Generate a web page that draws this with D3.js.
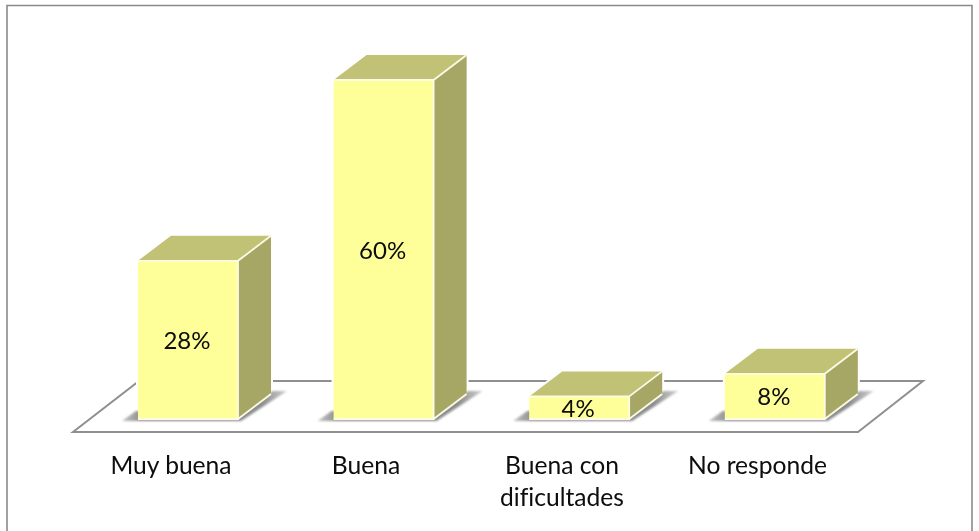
<!DOCTYPE html>
<html><head><meta charset="utf-8">
<script src="https://cdn.jsdelivr.net/npm/d3@7"></script>
<style>html,body{margin:0;padding:0;background:#fff}svg{display:block}text{font-family:Lato,"Open Sans",sans-serif;fill:#0a0a0a;font-variant-ligatures:none}</style>
</head><body><svg id="c" width="979" height="531"></svg>
<script>
const categories = [["Muy buena"],["Buena"],["Buena con","dificultades"],["No responde"]];
const values = [28,60,4,8];
const labels = ["28%","60%","4%","8%"];
const svg=d3.select("#c");
const defs=svg.append("defs");
defs.append("filter").attr("id","soft").attr("filterUnits","userSpaceOnUse").attr("x",0).attr("y",0).attr("width",979).attr("height",531)
  .append("feGaussianBlur").attr("stdDeviation",0.45);
defs.append("filter").attr("id","sh").append("feGaussianBlur").attr("stdDeviation",1);
const g=defs.append("linearGradient").attr("id","shg").attr("x1",0).attr("x2",1).attr("y1",0).attr("y2",0);
g.append("stop").attr("offset",0).attr("stop-color","#c4c4c4");
g.append("stop").attr("offset",0.12).attr("stop-color","#8d8d8d");
g.append("stop").attr("offset",0.85).attr("stop-color","#8d8d8d");
g.append("stop").attr("offset",1).attr("stop-color","#cfcfcf");

const root=svg.append("g").attr("filter","url(#soft)");
const idx=categories.map((d,i)=>i);
const barW=100, step=195.6, x0=138;
const xs=d3.scalePoint().domain(idx).range([x0,x0+3*step]);
const y=d3.scaleLinear().domain([0,60]).range([419,80]);
const dx=33,dy=-25;
const line=d3.line();

// frame
root.append("path").attr("d",line([[7,531],[7,5.5],[972,5.5],[972,531]])).attr("fill","none").attr("stroke","#8a8a8a").attr("stroke-width",1.6);

// floor
const floor=[[73,432],[139,381],[923,381],[858,432]];
root.append("path").attr("d",line(floor)+"Z").attr("fill","#fff").attr("stroke","#8f8f8f").attr("stroke-width",2);

const bars=root.append("g").selectAll("g").data(idx).join("g");
// white halo behind bar to interrupt floor line
bars.append("path").attr("fill","#fff").attr("stroke","#fff").attr("stroke-width",4)
 .attr("d",i=>{const l=xs(i),r=l+barW,t=y(values[i]),b=y(0);return line([[l,b],[l,t],[l+dx,t+dy],[r+dx,t+dy],[r+dx,b+dy],[r,b]])+"Z";});
// shadow on floor
bars.append("path").attr("filter","url(#sh)").attr("fill","url(#shg)")
 .attr("d",i=>{const l=xs(i),b=y(0);return line([[l-16,b+2],[l-2,b-8],[l+2,b-8],[l+barW,b-8],[l+barW+dx+2,b-28],[l+barW+dx+16,b-28],[l+barW+3,b+2]])+"Z";});
// top face
bars.append("path").attr("fill","#c2c277")
 .attr("d",i=>{const l=xs(i),r=l+barW,t=y(values[i]);return line([[l,t],[l+dx,t+dy],[r+dx,t+dy],[r,t]])+"Z";});
// side face
bars.append("path").attr("fill","#a6a665")
 .attr("d",i=>{const r=xs(i)+barW,t=y(values[i]),b=y(0);return line([[r,t],[r+dx,t+dy],[r+dx,b+dy],[r,b]])+"Z";});
// front face
bars.append("rect").attr("x",i=>xs(i)).attr("y",i=>y(values[i])).attr("width",barW).attr("height",i=>y(0)-y(values[i])).attr("fill","#ffff99");
// edge highlights
bars.append("path").attr("fill","none").attr("stroke","#fbfbe6").attr("stroke-width",1.8)
 .attr("d",i=>{const l=xs(i),r=l+barW,t=y(values[i]),b=y(0);return line([[l,t],[r,t],[r+dx,t+dy]])+line([[r,t],[r,b],[l,b]])+line([[r,b],[r+dx,b+dy]]);});
// value labels
bars.append("text").attr("x",i=>xs(i)+barW/2-1).attr("y",i=>(y(values[i])+y(0))/2+9).attr("text-anchor","middle").attr("font-size",24).text(i=>labels[i]);
// category labels
const catCx=[171,366,562,757.5];
const t=bars.append("text").attr("text-anchor","middle").attr("font-size",24.6);
t.each(function(i){const s=d3.select(this);categories[i].forEach((c,k)=>s.append("tspan").attr("x",catCx[i]).attr("y",474+k*32).text(c));});
</script></body></html>
